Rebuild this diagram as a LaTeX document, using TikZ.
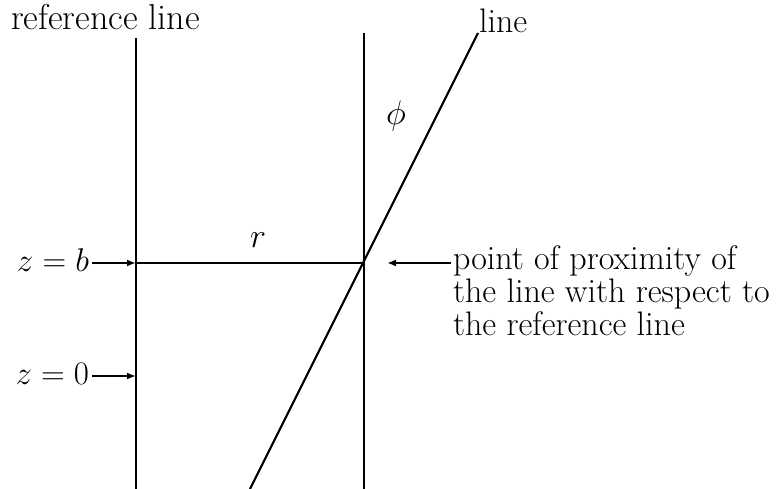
\documentclass[tikz,border=0pt]{standalone}
\usetikzlibrary{arrows.meta}
\newcommand{\mymath}[2]{\scalebox{#1}{\fontsize{24.88}{30}\selectfont$#2$}}
\begin{document}
\begin{tikzpicture}[x=1pt,y=-1pt, line width=2.1pt,
  lbl/.style={inner sep=0pt, font=\fontsize{34}{33}\selectfont},
  big/.style={inner sep=0pt, font=\fontsize{36}{36}\selectfont},
  arr/.style={-{Latex[length=9pt,width=7pt]}}]
\useasboundingbox (0,0) rectangle (776,489);
\coordinate (A1) at (136,38); \coordinate (A2) at (136,489);
\coordinate (B1) at (364,33); \coordinate (B2) at (364,489);
\coordinate (L1) at (478,33); \coordinate (L2) at (250,489);
\coordinate (P) at (364,263); \coordinate (Q) at (136,263);
\coordinate (Z0) at (136,376);
\coordinate (Ptip) at (387,263);
\draw (A1) -- (A2);
\draw (B1) -- (B2);
\draw (L1) -- (L2);
\draw (Q) -- (P);
\node[big, anchor=base west] (reftext) at (10,30) {reference line};
\node[lbl, anchor=base west] (linetext) at (478,33) {line};
\node[lbl] (phi) at (396,116) {\mymath{1.37}{\phi}};
\node[lbl] (r) at (258,240) {\mymath{1.37}{r}};
\node[big, anchor=base east] (zb) at (90,271) {\mymath{1.32}{z=b}};
\node[big, anchor=base east] (z0) at (90,384) {\mymath{1.32}{z=0}};
\node[lbl, anchor=base west] (pt1) at (452,269) {point of proximity of};
\node[lbl, anchor=base west] (pt2) at (452,302) {the line with respect to};
\node[lbl, anchor=base west] (pt3) at (452,335) {the reference line};
\draw[arr] ([xshift=2pt]zb.east |- Q) -- (Q);
\draw[arr] ([xshift=2pt]z0.east |- Z0) -- (Z0);
\draw[arr] ([xshift=-1pt]pt1.west |- P) -- (Ptip);
\end{tikzpicture}
\end{document}
